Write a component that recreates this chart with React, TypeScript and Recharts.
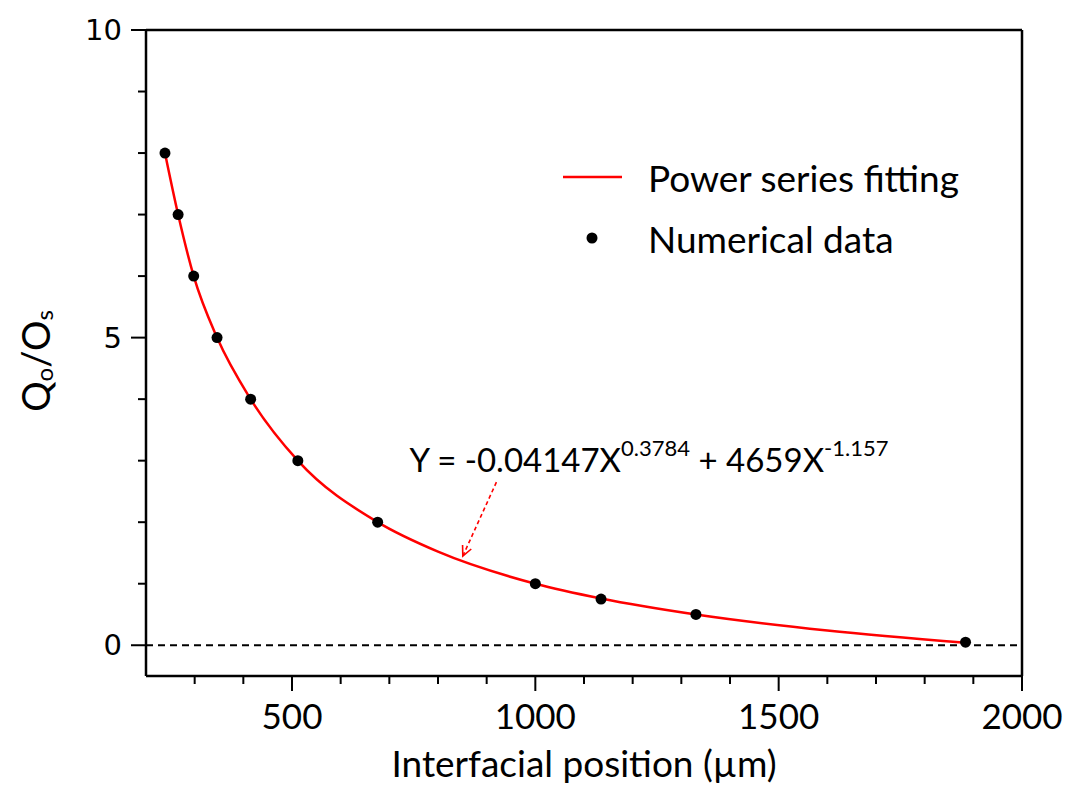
import {
  ComposedChart,
  Legend,
  Line,
  ReferenceLine,
  Scatter,
  XAxis,
  YAxis
} from 'recharts';

// numerical data (interfacial position in µm, Q/O ratio)
const pointX = [239, 266, 298, 346, 415, 512, 676, 1000, 1135, 1330, 1884];
const pointY = [8, 7, 6, 5, 4, 3, 2, 1, 0.75, 0.5, 0.05];

// points
const fitX = [239, 266, 298, 346, 415, 512, 676, 800, 1000, 1135, 1330, 1600, 1884];
const fitY = [8, 7, 6, 5, 4, 3, 2, 1.52, 1, 0.76, 0.5, 0.24, 0.04];

const xTicks = [300, 400, 500, 600, 700, 800, 900, 1000, 1100, 1200, 1300, 1400, 1500, 1600, 1700, 1800, 1900, 2000];
const xLabelTicks = [500, 1000, 1500, 2000];
const yTicks = [0, 1, 2, 3, 4, 5, 6, 7, 8, 9, 10];
const yLabelTicks = [0, 5, 10];

const fitName = 'Power series fitting';
const pointName = 'Numerical data';

const pointData = pointX.map((x, i) => ({ x, y: pointY[i] }));
const fitData = fitX.map((x, i) => ({ x, y: fitY[i] }));

const RED = '#ff0000';
const FONT = 'Lato, "Open Sans", sans-serif';

const XTick = (props: any) => {
  const { x, y, payload } = props;
  const major = xLabelTicks.includes(payload.value);
  return (
    <g>
      <line x1={x} x2={x} y1={y} y2={y + (major ? 15 : 8)} stroke="#000" strokeWidth={2} />
      {major && (
        <text x={x} y={y + 53} textAnchor="middle" fontFamily={FONT} fontSize={35} fill="#000">
          {payload.value}
        </text>
      )}
    </g>
  );
};

const YTick = (props: any) => {
  const { x, y, payload } = props;
  const major = yLabelTicks.includes(payload.value);
  return (
    <g>
      <line x1={x} x2={x - (major ? 15 : 8)} y1={y} y2={y} stroke="#000" strokeWidth={2} />
      {major && (
        <text
          x={x - 24}
          y={y}
          textAnchor="end"
          dominantBaseline="central"
          fontFamily='"DejaVu Sans", sans-serif'
          fontSize={29}
          fill="#000"
        >
          {payload.value}
        </text>
      )}
    </g>
  );
};

const ArrowShape = (props: any) => {
  const { x1, y1, x2, y2 } = props;
  const ang = Math.atan2(y2 - y1, x2 - x1);
  const len = 11;
  const a1 = ang + Math.PI - 0.45;
  const a2 = ang + Math.PI + 0.45;
  return (
    <g>
      <line x1={x1} y1={y1} x2={x2} y2={y2} stroke={RED} strokeWidth={1.6} strokeDasharray="4 3" />
      <polyline
        points={`${x2 + len * Math.cos(a1)},${y2 + len * Math.sin(a1)} ${x2},${y2} ${x2 + len * Math.cos(a2)},${y2 + len * Math.sin(a2)}`}
        fill="none"
        stroke={RED}
        strokeWidth={1.6}
      />
      <text x={x1 - 87} y={y1 - 10} fontFamily={FONT} fontSize={33} fill="#000">
        <tspan>Y = -0.04147X</tspan>
        <tspan dy={-16} fontSize={22}>0.3784</tspan>
        <tspan dy={16}> + 4659X</tspan>
        <tspan dy={-16} fontSize={22}>-1.157</tspan>
      </text>
    </g>
  );
};

const LegendBox = () => (
  <svg width={480} height={120}>
    <line x1={8} x2={67} y1={37} y2={37} stroke={RED} strokeWidth={2.5} />
    <text x={93} y={37} dominantBaseline="central" fontFamily={FONT} fontSize={37} fill="#000">
      {fitName}
    </text>
    <circle cx={37} cy={98} r={5.5} fill="#000" />
    <text x={93} y={98} dominantBaseline="central" fontFamily={FONT} fontSize={37} fill="#000">
      {pointName}
    </text>
  </svg>
);

export default function App() {
  return (
    <div style={{ position: 'absolute', left: 0, top: 0, background: '#fff' }}>
      <ComposedChart
        width={1069}
        height={787}
        margin={{ top: 30, right: 47, bottom: 0, left: 0 }}
      >
        <XAxis
          dataKey="x"
          type="number"
          domain={[200, 2000]}
          allowDataOverflow
          ticks={xTicks}
          interval={0}
          tick={<XTick />}
          tickLine={false}
          tickSize={0}
          tickMargin={0}
          height={111}
          axisLine={{ stroke: '#000', strokeWidth: 2.5 }}
          label={{
            value: 'Interfacial position (µm)',
            position: 'insideBottom',
            offset: 10,
            fontFamily: FONT,
            fontSize: 37,
            fill: '#000'
          }}
        />
        <YAxis
          type="number"
          domain={[-0.5, 10]}
          allowDataOverflow
          ticks={yTicks}
          interval={0}
          tick={<YTick />}
          tickLine={false}
          tickSize={0}
          tickMargin={0}
          width={146}
          axisLine={{ stroke: '#000', strokeWidth: 2.5 }}
          label={(p: any) => {
            const vb = p.viewBox;
            const cx = 35;
            const cy = vb.y + vb.height / 2 + 8;
            return (
              <text
                transform={`translate(${cx},${cy}) rotate(-90)`}
                textAnchor="middle"
                dominantBaseline="central"
                fontFamily={FONT}
                fontSize={38}
                fill="#000"
              >
                <tspan>Q</tspan>
                <tspan fontSize={24} dy={8}>o</tspan>
                <tspan dy={-8}>/O</tspan>
                <tspan fontSize={24} dy={8}>s</tspan>
              </text>
            );
          }}
        />
        <ReferenceLine y={10} stroke="#000" strokeWidth={2.5} />
        <ReferenceLine x={2000} stroke="#000" strokeWidth={2.5} />
        <ReferenceLine y={0} stroke="#000" strokeWidth={2} strokeDasharray="7 5" />
        <Line
          data={fitData}
          dataKey="y"
          name={fitName}
          type="monotone"
          stroke={RED}
          strokeWidth={2.5}
          dot={false}
          activeDot={false}
          isAnimationActive={false}
        />
        <Scatter
          data={pointData}
          dataKey="y"
          name={pointName}
          fill="#000"
          shape={(p: any) => <circle cx={p.cx} cy={p.cy} r={5.5} fill="#000" />}
          isAnimationActive={false}
        />
        <ReferenceLine
          segment={[
            { x: 920, y: 2.65 },
            { x: 851, y: 1.45 }
          ]}
          shape={<ArrowShape />}
        />
        <Legend
          layout="vertical"
          align="center"
          verticalAlign="middle"
          content={() => <LegendBox />}
          wrapperStyle={{ position: 'absolute', left: 555, top: 140, width: 480, height: 120 }}
        />
      </ComposedChart>
    </div>
  );
}
